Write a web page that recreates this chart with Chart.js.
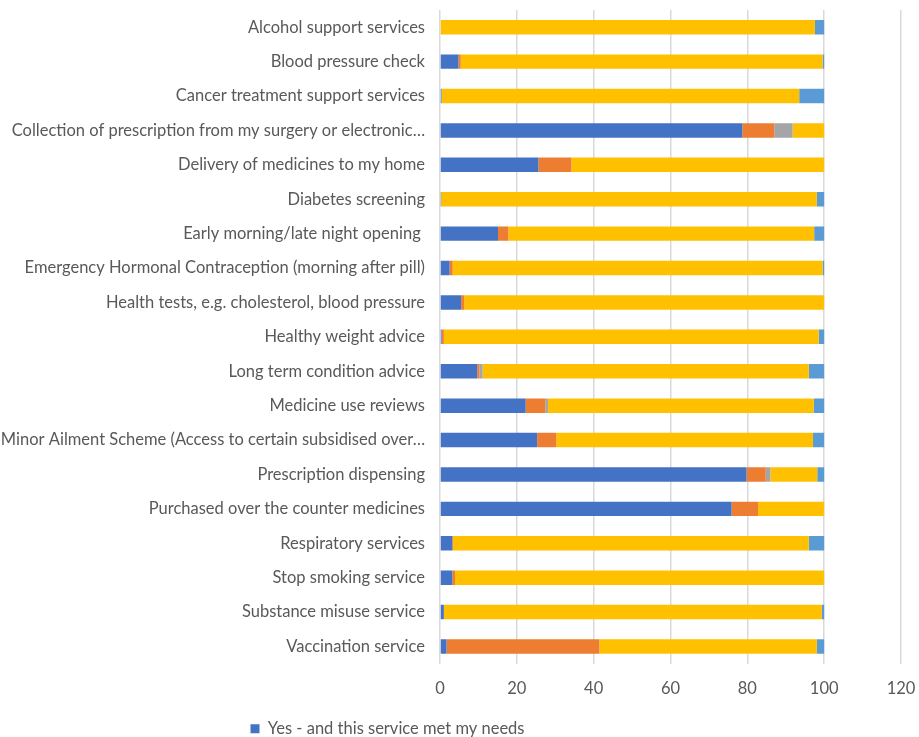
<!DOCTYPE html>
<html>
<head>
<meta charset="utf-8">
<script src="https://cdn.jsdelivr.net/npm/chart.js@4/dist/chart.umd.min.js"></script>
<style>
  html, body { margin: 0; padding: 0; background: #fff; overflow: hidden; }
  #wrap { width: 919px; height: 737px; position: relative; }
</style>
</head>
<body>
<div id="wrap"><canvas id="servicesChart"></canvas></div>
<script>
// categories (top to bottom)
const services = [
    'Alcohol support services',
    'Blood pressure check',
    'Cancer treatment support services',
    'Collection of prescription from my surgery or electronic…',
    'Delivery of medicines to my home',
    'Diabetes screening',
    'Early morning/late night opening ',
    'Emergency Hormonal Contraception (morning after pill)',
    'Health tests, e.g. cholesterol, blood pressure',
    'Healthy weight advice',
    'Long term condition advice',
    'Medicine use reviews',
    'Minor Ailment Scheme (Access to certain subsidised over…',
    'Prescription dispensing',
    'Purchased over the counter medicines',
    'Respiratory services',
    'Stop smoking service',
    'Substance misuse service',
    'Vaccination service'
];

// series values (%)
const metNeeds    = [0, 4.8, 0.4, 78.7, 25.6, 0.3, 15.1, 2.5, 5.5, 0.4, 9.7, 22.3, 25.3, 79.8, 75.9, 3.2, 3.2, 1.0, 1.7];
const notMetNeeds = [0, 0.6, 0, 8.3, 8.6, 0, 2.7, 0.8, 0.8, 0.6, 0.6, 5.1, 5.0, 5.0, 6.9, 0.2, 0.7, 0, 39.8];
const notSure     = [0, 0, 0, 4.8, 0, 0, 0, 0, 0, 0, 0.8, 0.7, 0, 1.2, 0, 0, 0, 0, 0];
const notUsed     = [97.6, 94.2, 93.1, 8.2, 65.8, 97.8, 79.6, 96.3, 93.7, 97.6, 84.9, 69.2, 66.8, 12.2, 17.2, 92.6, 96.1, 98.4, 56.6];
const noAnswer    = [2.4, 0.4, 6.5, 0, 0, 1.9, 2.6, 0.4, 0, 1.4, 4.0, 2.7, 2.9, 1.8, 0, 4.0, 0, 0.6, 1.9];

const xTicks = [0, 20, 40, 60, 80, 100, 120];

const seriesNames = [
    'Yes - and this service met my needs',
    'Yes - but this service did not meet my needs',
    'Not sure',
    'No - I have not used this service',
    'No answer'
];
const seriesColors = ['#4472C4', '#ED7D31', '#A5A5A5', '#FFC000', '#5B9BD5'];
const seriesData = [metNeeds, notMetNeeds, notSure, notUsed, noAnswer];

const labelFont = { family: 'Lato', size: 16.5 };

// move the legend box so its single row sits where the original one does
const legendShift = {
    id: 'legendShift',
    afterLayout(chart) {
        const lg = chart.legend;
        if (!lg) return;
        lg.left = 240;
        lg.right = 535;
        lg.top -= 3;
        lg.bottom -= 3;
    }
};

new Chart(document.getElementById('servicesChart').getContext('2d'), {
    type: 'bar',
    data: {
        labels: services,
        datasets: seriesData.map((d, i) => ({
            label: seriesNames[i],
            data: d,
            backgroundColor: seriesColors[i],
            borderWidth: 0,
            barPercentage: 0.7,
            categoryPercentage: 0.6
        }))
    },
    options: {
        indexAxis: 'y',
        responsive: true,
        maintainAspectRatio: false,
        animation: false,
        layout: { padding: { top: 10, right: 18, bottom: -13, left: 0 } },
        scales: {
            x: {
                stacked: true,
                min: 0,
                max: 120,
                afterBuildTicks: (scale) => { scale.ticks = xTicks.map(v => ({ value: v })); },
                afterFit: (scale) => { scale.paddingLeft = 0; scale.paddingRight = 0; },
                grid: { color: '#d9d9d9', lineWidth: 1.5, drawTicks: false },
                border: { display: false },
                ticks: { color: '#595959', font: labelFont, padding: 15 }
            },
            y: {
                stacked: true,
                grid: { display: false, drawTicks: false },
                border: { display: false },
                afterFit: (scale) => { scale.width = 440; scale.paddingTop = 0; scale.paddingBottom = 0; },
                ticks: { color: '#595959', font: labelFont, padding: 15, autoSkip: false }
            }
        },
        plugins: {
            legend: {
                position: 'bottom',
                labels: {
                    filter: (item) => item.datasetIndex === 0,
                    color: '#595959',
                    font: labelFont,
                    boxWidth: 9,
                    boxHeight: 9,
                    padding: 10
                }
            },
            tooltip: { enabled: false }
        }
    },
    plugins: [legendShift]
});
</script>
</body>
</html>
